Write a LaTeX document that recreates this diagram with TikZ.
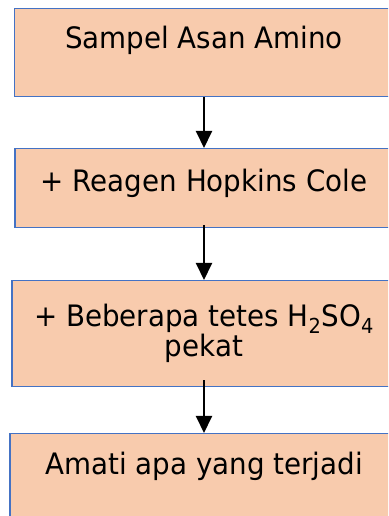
\documentclass[tikz,border=0pt]{standalone}
\usepackage{fontspec}
\setmainfont{DejaVu Sans}[FakeStretch=0.94]
\usetikzlibrary{arrows.meta}
\definecolor{isikotak}{RGB}{248,203,173}
\definecolor{garis}{RGB}{68,114,196}
\newcommand\hurufkotak{\fontsize{29.5}{30}\selectfont\setlength{\lineskiplimit}{-20pt}}

\begin{document}
\begin{tikzpicture}[x=1pt,y=1pt,
  langkah/.style={draw=garis,fill=isikotak,line width=1.5pt,inner xsep=0pt,inner ysep=0pt,anchor=north,
    font=\hurufkotak},
  panah/.style={-{Triangle[width=16pt,length=17pt]},line width=2pt}]
\clip (0,0) rectangle (388,516);

\node[langkah,minimum width=379pt,text height=40pt,text depth=48pt] (sampel) at (204,508) {Sampel Asan Amino};
\node[langkah,minimum width=378pt,text height=43pt,text depth=36pt] (reagen) at (204,368) {+ Reagen Hopkins Cole};
\node[langkah,minimum width=384pt,minimum height=106pt,align=center] (asam) at (204,236) {+ Beberapa tetes H\textsubscript{2}SO\textsubscript{4}\\pekat};
\node[langkah,minimum width=388pt,text height=41pt,text depth=66pt] (amati) at (204,83) {Amati apa yang terjadi};

\draw[panah] (sampel) -- (reagen);
\draw[panah] ([yshift=3pt]reagen.south) -- (asam.north);
\draw[panah] ([yshift=7pt]asam.south) -- (amati.north);
\end{tikzpicture}
\end{document}
